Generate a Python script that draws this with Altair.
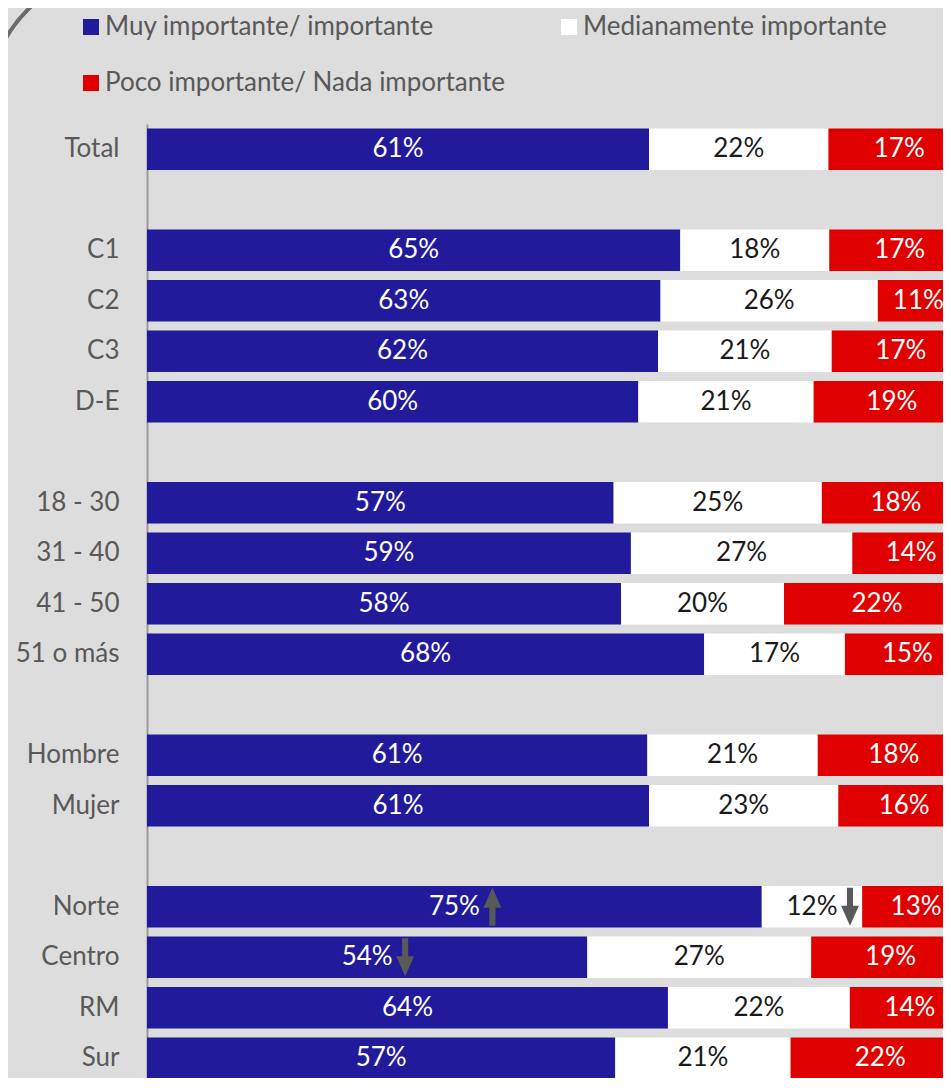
import altair as alt
import pandas as pd

# ---------------- data ----------------
rows = ["Total", " ", "C1", "C2", "C3", "D-E", "  ",
        "18 - 30", "31 - 40", "41 - 50", "51 o más", "   ",
        "Hombre", "Mujer", "    ", "Norte", "Centro", "RM", "Sur"]
groups = ["Total", "C1", "C2", "C3", "D-E", "18 - 30", "31 - 40", "41 - 50",
          "51 o más", "Hombre", "Mujer", "Norte", "Centro", "RM", "Sur"]
series = ["Muy importante/ importante", "Medianamente importante",
          "Poco importante/ Nada importante"]
colors = ["#211b9c", "#ffffff", "#e00000"]
text_colors = ["#ffffff", "#1a1a1a", "#ffffff"]

muy = [61.0, 64.8, 62.4, 62.1, 59.7, 56.7, 58.8, 57.6, 67.7, 60.8, 61.0, 74.7, 53.5, 63.3, 56.9]
med = [21.8, 18.1, 26.4, 21.1, 21.3, 25.3, 26.9, 19.8, 17.1, 20.7, 23.0, 12.2, 27.2, 22.1, 21.3]
poco = [17.2, 17.1, 11.2, 16.8, 19.0, 18.0, 14.3, 22.6, 15.2, 18.5, 16.0, 13.1, 19.3, 14.6, 21.8]

lab_muy = [61, 65, 63, 62, 60, 57, 59, 58, 68, 61, 61, 75, 54, 64, 57]
lab_med = [22, 18, 26, 21, 21, 25, 27, 20, 17, 21, 23, 12, 27, 22, 21]
lab_poco = [17, 17, 11, 17, 19, 18, 14, 22, 15, 18, 16, 13, 19, 14, 22]

# significance arrows: (group, series index, direction)
arrow_groups = ["Norte", "Norte", "Centro"]
arrow_series = [0, 1, 0]
arrow_dirs = ["up", "down", "down"]

# ---------------- table ----------------
X_MAX = 96.72          # visible part of the 0-100 axis (the right end is cut off)
LABEL_MAX = X_MAX - 3.0

recs = []
for i, g in enumerate(groups):
    vals = [muy[i], med[i], poco[i]]
    labs = [lab_muy[i], lab_med[i], lab_poco[i]]
    start = 0.0
    for k in range(3):
        end = start + vals[k]
        mid = (start + end) / 2
        recs.append({"group": g, "series": series[k], "order": k,
                     "start": start, "end": end, "mid": mid,
                     "lx": min(mid, LABEL_MAX),
                     "label": f"{labs[k]}%", "tcolor": text_colors[k]})
        start = end
df = pd.DataFrame(recs)

arr = []
for g, s, d in zip(arrow_groups, arrow_series, arrow_dirs):
    m = df[(df.group == g) & (df.series == series[s])].iloc[0]
    arr.append({"group": g, "mid": m["mid"], "dir": d})
arr_df = pd.DataFrame(arr)

FONT = "Lato"
FS = 26
GRAY = "#595959"
UP = "M0,-1 L0.47,0.05 L0.16,0.05 L0.16,1 L-0.16,1 L-0.16,0.05 L-0.47,0.05 Z"
DOWN = "M0,1 L0.47,-0.05 L0.16,-0.05 L0.16,-1 L-0.16,-1 L-0.16,-0.05 L-0.47,-0.05 Z"

yscale = alt.Scale(domain=rows, paddingInner=0.18, paddingOuter=0.09, range=[0, 959.5])
xscale = alt.Scale(domain=[0, X_MAX], nice=False, zero=True)

y_enc = alt.Y("group:N", sort=rows, scale=yscale, title=None,
              axis=alt.Axis(ticks=False, grid=False, domainColor="#9a9a9a",
                            domainWidth=2, labelColor=GRAY, labelFont=FONT,
                            labelFontSize=FS, labelPadding=28, labelLimit=300))

bars = alt.Chart(df).mark_bar(stroke=None, clip=True).encode(
    x=alt.X("start:Q", scale=xscale, axis=None),
    x2="end:Q",
    y=y_enc,
    color=alt.Color("series:N", scale=alt.Scale(domain=series, range=colors),
                    legend=alt.Legend(title=None, orient="none", legendX=-69,
                                      legendY=-110, columns=2, direction="horizontal",
                                      columnPadding=50, rowPadding=30,
                                      symbolType="square",
                                      symbolSize=256, symbolStrokeWidth=0,
                                      labelFont=FONT, labelFontSize=FS,
                                      labelColor=GRAY, labelOffset=1,
                                      labelLimit=0)),
    order=alt.Order("order:Q"),
)

labels = alt.Chart(df).mark_text(font=FONT, fontSize=FS, baseline="middle").encode(
    x=alt.X("lx:Q", scale=xscale),
    y=alt.Y("group:N", sort=rows, scale=yscale),
    text="label:N",
    color=alt.Color("tcolor:N", scale=None),
)

up = alt.Chart(arr_df).transform_filter(alt.datum.dir == "up").mark_point(
    shape=UP, size=1444, filled=True, color=GRAY, opacity=1, xOffset=38).encode(
    x=alt.X("mid:Q", scale=xscale), y=alt.Y("group:N", sort=rows, scale=yscale))
down = alt.Chart(arr_df).transform_filter(alt.datum.dir == "down").mark_point(
    shape=DOWN, size=1444, filled=True, color=GRAY, opacity=1, xOffset=38).encode(
    x=alt.X("mid:Q", scale=xscale), y=alt.Y("group:N", sort=rows, scale=yscale))

frame = alt.Chart(pd.DataFrame({"k": [0]})).mark_rect(
    fill="transparent", stroke="#6b6b6b", strokeWidth=4, cornerRadius=134).encode(
    x=alt.value(-159), x2=alt.value(1500), y=alt.value(-153), y2=alt.value(1100))

chart = alt.layer(frame, bars, labels, up, down).properties(
    width=796, height=954,
    autosize=alt.AutoSizeParams(type="none"),
    padding={"left": 139, "top": 116, "right": 0, "bottom": 0},
).configure(background="#dddddd", font=FONT).configure_view(strokeWidth=0)

chart.save("out.html", embed_options={"renderer": "svg", "actions": False})
